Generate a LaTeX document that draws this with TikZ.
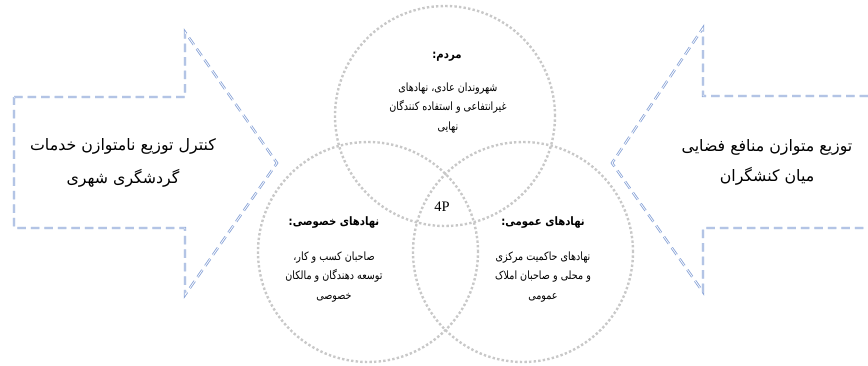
\documentclass[tikz,border=0pt]{standalone}
\usepackage{fontspec}
\setmainfont{DejaVu Sans}
\newfontfamily\farsi[Script=Arabic]{DejaVu Sans}
\newfontfamily\latinserif{Liberation Serif}
\TeXXeTstate=1
\definecolor{arrowblue}{RGB}{138,164,216}
\definecolor{dotgray}{RGB}{200,200,200}

\begin{document}
\begin{tikzpicture}[x=1pt,y=-1pt,
    venn/.style={circle, minimum size=220pt, inner sep=0pt, draw=dotgray, line width=2.4pt, dash pattern=on 2.4pt off 2.2pt},
    bigarrow/.style={draw=arrowblue, line width=0.85pt, double=white, double distance=0.75pt, dash pattern=on 8.5pt off 5pt},
    head/.style={inner sep=0pt, xscale=0.87, transform shape, font=\farsi\bfseries\fontsize{11.6}{13}\selectfont},
    body/.style={inner sep=0pt, align=center, xscale=0.84, transform shape, font=\farsi\fontsize{11.4}{19.5}\selectfont},
    arrowtext/.style={inner sep=0pt, align=center, font=\farsi\fontsize{15.8}{33}\selectfont}]
    \useasboundingbox (0,0) rectangle (868,365);

    \draw[bigarrow] (14,97) -- (185,97) -- (185,32) -- (277,163) -- (185,295) -- (185,228) -- (14,228) -- cycle;
    \draw[bigarrow] (868,96) -- (703,96) -- (703,28) -- (612,163) -- (703,292) -- (703,228) -- (868,228);

    \node[venn] (mardom) at (445,116) {};
    \node[venn] (khososi) at (368,252) {};
    \node[venn] (omomi) at (523,252) {};

    \node[head] (mardomhead) at (447,57) {\beginR مردم:\endR};
    \node[body] (mardomtext) at (448,108) {\beginR شهروندان عادی، نهادهای\endR\\ \beginR غیرانتفاعی و استفاده کنندگان\endR\\ \beginR نهایی\endR};

    \node[head] (khososihead) at (334,223) {\beginR نهادهای خصوصی:\endR};
    \node[body] (khosositext) at (334,277) {\beginR صاحبان کسب و کار،\endR\\ \beginR توسعه دهندگان و مالکان\endR\\ \beginR خصوصی\endR};

    \node[head] (omomihead) at (543,223) {\beginR نهادهای عمومی:\endR};
    \node[body] (omomitext) at (543,277) {\beginR نهادهای حاکمیت مرکزی\endR\\ \beginR و محلی و صاحبان املاک\endR\\ \beginR عمومی\endR};

    \node[font=\latinserif\fontsize{14.5}{16}\selectfont, inner sep=0pt] (fourp) at (442,207) {4P};

    \node[arrowtext] (kontrol) at (123,163) {\beginR کنترل توزیع نامتوازن خدمات\endR\\ \beginR گردشگری شهری\endR};
    \node[arrowtext, font=\farsi\fontsize{15.8}{30}\selectfont] (tozi) at (767,162) {\beginR توزیع متوازن منافع فضایی\endR\\ \beginR میان کنشگران\endR};
\end{tikzpicture}
\end{document}
